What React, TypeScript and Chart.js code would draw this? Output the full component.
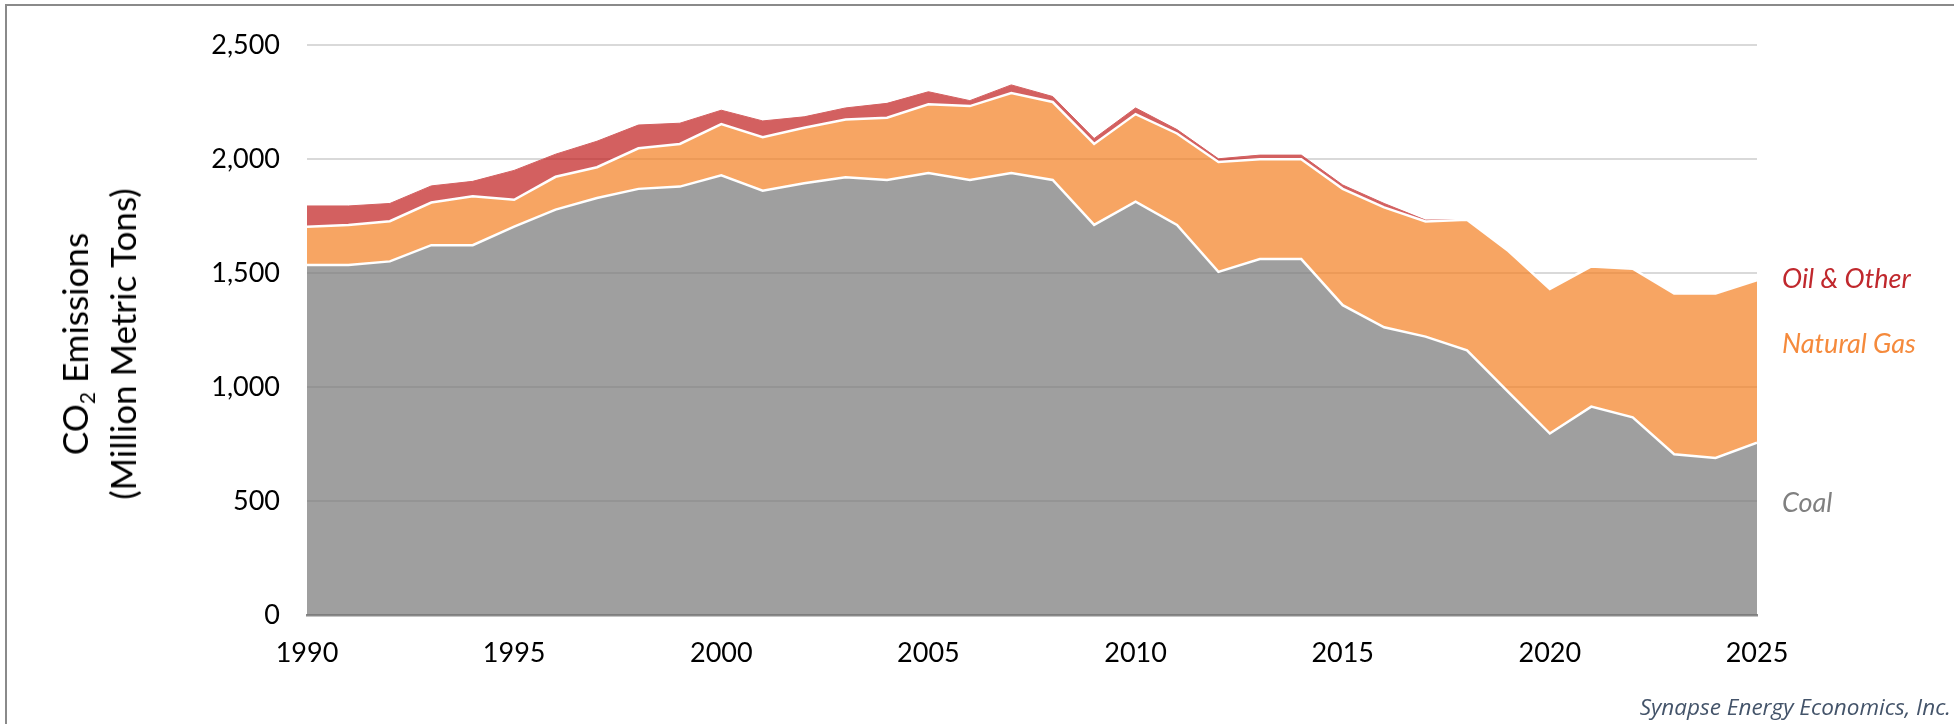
import React, { useEffect, useRef } from 'react';
import { Chart, registerables } from 'chart.js';

Chart.register(...registerables);

// ---- Data (Million Metric Tons CO2) ----
const years = [
  1990, 1991, 1992, 1993, 1994, 1995, 1996, 1997, 1998, 1999,
  2000, 2001, 2002, 2003, 2004, 2005, 2006, 2007, 2008, 2009,
  2010, 2011, 2012, 2013, 2014, 2015, 2016, 2017, 2018, 2019,
  2020, 2021, 2022, 2023, 2024, 2025,
];
const coal = [
  1535, 1535, 1551, 1622, 1622, 1703, 1778, 1829, 1869, 1879,
  1928, 1861, 1894, 1920, 1908, 1938, 1908, 1938, 1908, 1711,
  1813, 1711, 1505, 1561, 1561, 1359, 1262, 1221, 1161, 978,
  796, 914, 867, 705, 689, 756,
];
const naturalGas = [
  168, 176, 176, 187, 215, 118, 144, 135, 178, 187,
  225, 235, 243, 253, 273, 302, 324, 351, 342, 355,
  384, 401, 482, 438, 438, 510, 526, 505, 573, 618,
  634, 615, 652, 705, 721, 712,
];
const oilOther = [
  91, 83, 78, 73, 65, 129, 99, 114, 102, 91,
  61, 71, 48, 51, 63, 55, 24, 36, 24, 24,
  27, 17, 14, 18, 18, 17, 17, 6, 0, 0,
  0, 0, 0, 0, 0, 0,
];
const xTicks = [1990, 1995, 2000, 2005, 2010, 2015, 2020, 2025];
const yTicks = [0, 500, 1000, 1500, 2000, 2500];

const W = 1954;
const H = 724;

export default function App() {
  const ref = useRef<HTMLCanvasElement | null>(null);

  useEffect(() => {
    const canvas = ref.current;
    if (!canvas) return;
    const toPts = (arr: number[]) => years.map((x, i) => ({ x, y: arr[i] }));
    const chart = new Chart(canvas, {
      type: 'line',
      data: {
        datasets: [
          {
            label: 'Coal',
            data: toPts(coal),
            fill: 'origin',
            backgroundColor: 'rgba(120,120,120,0.71)',
            borderColor: '#ffffff',
            borderWidth: 2.5,
            pointRadius: 0,
            tension: 0,
          },
          {
            label: 'Natural Gas',
            data: toPts(naturalGas),
            fill: '-1',
            backgroundColor: 'rgba(244,128,35,0.71)',
            borderColor: '#ffffff',
            borderWidth: 2.5,
            pointRadius: 0,
            tension: 0,
          },
          {
            label: 'Oil & Other',
            data: toPts(oilOther),
            fill: '-1',
            backgroundColor: 'rgba(193,31,31,0.71)',
            borderColor: 'rgba(211,96,96,1)',
            borderWidth: 1,
            pointRadius: 0,
            tension: 0,
          },
        ],
      },
      options: {
        animation: false,
        responsive: false,
        devicePixelRatio: 1,
        events: [],
        layout: { padding: { left: 0, right: 197, top: 45, bottom: 0 } },
        plugins: {
          legend: { display: false },
          tooltip: { enabled: false },
        },
        scales: {
          x: {
            type: 'linear',
            min: xTicks[0],
            max: xTicks[xTicks.length - 1],
            z: 1,
            grid: { display: false, drawTicks: false },
            border: { display: true, color: '#8a8a8a', width: 2.5 },
            afterBuildTicks: (s: any) => {
              s.ticks = xTicks.map((v) => ({ value: v }));
            },
            afterFit: (s: any) => {
              s.height = 109;
            },
            ticks: {
              padding: 22,
              color: '#000000',
              font: { family: 'Lato', size: 27 },
              autoSkip: false,
              maxRotation: 0,
              callback: (v: any) => String(v),
            },
          },
          y: {
            stacked: true,
            min: yTicks[0],
            max: yTicks[yTicks.length - 1],
            afterBuildTicks: (s: any) => {
              s.ticks = yTicks.map((v) => ({ value: v }));
            },
            afterFit: (s: any) => {
              s.width = 307;
            },
            grid: { color: '#d9d9d9', lineWidth: 2, drawTicks: false },
            border: { display: false },
            ticks: {
              padding: 27,
              color: '#000000',
              font: { family: 'Lato', size: 27 },
              callback: (v: any) => Number(v).toLocaleString('en-US'),
            },
          },
        },
      },
    } as any);
    return () => chart.destroy();
  }, []);

  return (
    <div
      style={{
        position: 'fixed',
        left: 0,
        top: 0,
        width: W,
        height: H,
        overflow: 'hidden',
        background: '#ffffff',
      }}
    >
      <div
        style={{
          position: 'absolute',
          left: 5,
          top: 4,
          width: W + 100,
          height: H + 100,
          borderLeft: '2px solid #8a8a8a',
          borderTop: '2px solid #8a8a8a',
          boxSizing: 'border-box',
        }}
      />
      <canvas
        ref={ref}
        width={W}
        height={H}
        style={{ position: 'absolute', left: 0, top: 0, width: W, height: H }}
      />
      <div
        style={{
          position: 'absolute',
          left: 98,
          top: 344,
          transform: 'translate(-50%, -50%) rotate(-90deg)',
          whiteSpace: 'nowrap',
          textAlign: 'center',
          fontFamily: 'Lato',
          fontSize: 35,
          lineHeight: '42px',
          color: '#000000',
        }}
      >
        <div>
          CO
          <span style={{ fontSize: '0.6em', position: 'relative', top: '0.35em' }}>2</span>{' '}
          Emissions
        </div>
        <div>(Million Metric Tons)</div>
      </div>
      <div
        style={{
          position: 'absolute',
          left: 1782,
          top: 277,
          transform: 'translateY(-50%)',
          fontFamily: 'Lato',
          fontStyle: 'italic',
          fontSize: 27,
          color: '#c0282d',
          whiteSpace: 'nowrap',
        }}
      >
        Oil &amp; Other
      </div>
      <div
        style={{
          position: 'absolute',
          left: 1782,
          top: 342,
          transform: 'translateY(-50%)',
          fontFamily: 'Lato',
          fontStyle: 'italic',
          fontSize: 27,
          color: '#f58a3c',
          whiteSpace: 'nowrap',
        }}
      >
        Natural Gas
      </div>
      <div
        style={{
          position: 'absolute',
          left: 1782,
          top: 501,
          transform: 'translateY(-50%)',
          fontFamily: 'Lato',
          fontStyle: 'italic',
          fontSize: 27,
          color: '#808080',
          whiteSpace: 'nowrap',
        }}
      >
        Coal
      </div>
      <div
        style={{
          position: 'absolute',
          right: 3,
          top: 706,
          transform: 'translateY(-50%)',
          fontFamily: 'Open Sans',
          fontStyle: 'italic',
          fontSize: 22.5,
          color: '#44546a',
          whiteSpace: 'nowrap',
        }}
      >
        Synapse Energy Economics, Inc.
      </div>
    </div>
  );
}
